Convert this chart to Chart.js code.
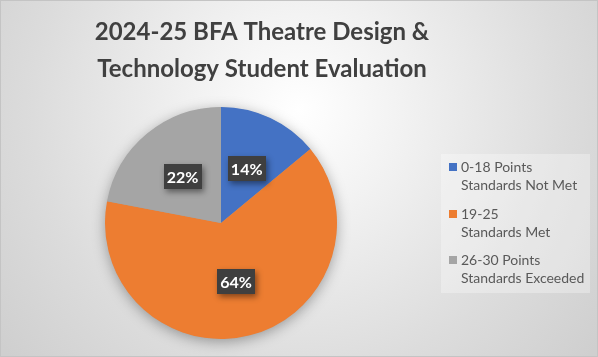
<!DOCTYPE html>
<html>
<head>
<meta charset="utf-8">
<script src="https://cdn.jsdelivr.net/npm/chart.js@4.4.1/dist/chart.umd.min.js"></script>
<style>
  html, body { margin: 0; padding: 0; background: #ffffff; }
  #wrap { width: 598px; height: 357px; }
</style>
</head>
<body>
<div id="wrap"><canvas id="c" width="598" height="357"></canvas></div>
<script>
const titleLines = ["2024-25 BFA Theatre Design &", "Technology Student Evaluation"];
const categories = [
  ["0-18 Points", "Standards Not Met"],
  ["19-25", "Standards Met"],
  ["26-30 Points", "Standards Exceeded"]
];
const percentValues = [14, 64, 22];
const sliceColors = ["#4472C4", "#ED7D31", "#A5A5A5"];

const FONT = "Lato, 'Open Sans', 'Liberation Sans', sans-serif";

const bgPlugin = {
  id: 'bg',
  beforeDraw(chart) {
    const ctx = chart.ctx, w = chart.width, h = chart.height;
    ctx.save();
    const g = ctx.createRadialGradient(w / 2, 110, 0, w / 2, 110, 380);
    g.addColorStop(0, '#ffffff');
    g.addColorStop(0.25, '#f3f3f3');
    g.addColorStop(0.7, '#dcdcdc');
    g.addColorStop(1, '#cfcfcf');
    ctx.fillStyle = g;
    ctx.fillRect(0, 0, w, h);
    ctx.strokeStyle = '#c4c4c4';
    ctx.lineWidth = 1;
    ctx.strokeRect(0.5, 0.5, w - 1, h - 1);
    // title
    ctx.fillStyle = '#404040';
    ctx.font = "bold 24px " + FONT;
    ctx.textAlign = 'center';
    ctx.textBaseline = 'alphabetic';
    ctx.fillText(titleLines[0], 262, 40);
    ctx.fillText(titleLines[1], 262, 77);
    ctx.restore();
  },
  beforeDatasetsDraw(chart) {
    const arc = chart.getDatasetMeta(0).data[0];
    if (!arc) return;
    const ctx = chart.ctx;
    ctx.save();
    ctx.shadowColor = 'rgba(0,0,0,0.35)';
    ctx.shadowBlur = 14;
    ctx.shadowOffsetX = 0;
    ctx.shadowOffsetY = 3;
    ctx.fillStyle = '#a0a0a0';
    ctx.beginPath();
    ctx.arc(arc.x, arc.y, arc.outerRadius - 0.5, 0, Math.PI * 2);
    ctx.fill();
    ctx.restore();
  },
  afterDatasetsDraw(chart) {
    const ctx = chart.ctx;
    const meta = chart.getDatasetMeta(0);
    const vals = chart.data.datasets[0].data;
    ctx.save();
    ctx.font = "bold 16px " + FONT;
    ctx.textAlign = 'center';
    ctx.textBaseline = 'middle';
    meta.data.forEach((el, i) => {
      const mid = (el.startAngle + el.endAngle) / 2;
      const r = el.outerRadius * 0.52;
      const x = el.x + Math.cos(mid) * r;
      const y = el.y + Math.sin(mid) * r;
      const txt = vals[i] + '%';
      const bw = 38, bh = 25;
      ctx.save();
      ctx.shadowColor = 'rgba(0,0,0,0.45)';
      ctx.shadowBlur = 6;
      ctx.shadowOffsetX = 2;
      ctx.shadowOffsetY = 3;
      ctx.fillStyle = '#3f3f3f';
      ctx.fillRect(Math.round(x - bw / 2), Math.round(y - bh / 2), bw, bh);
      ctx.restore();
      ctx.fillStyle = '#ffffff';
      ctx.fillText(txt, x, y + 1);
    });
    ctx.restore();
  },
  afterDraw(chart) {
    const ctx = chart.ctx;
    const labels = chart.data.labels;
    const colors = chart.data.datasets[0].backgroundColor;
    ctx.save();
    ctx.fillStyle = 'rgba(255,255,255,0.3)';
    ctx.fillRect(441, 154, 149, 139);
    ctx.font = "14px " + FONT;
    ctx.textAlign = 'left';
    ctx.textBaseline = 'middle';
    const starts = [167, 214, 260];
    labels.forEach((lab, i) => {
      const y0 = starts[i];
      ctx.fillStyle = colors[i];
      ctx.fillRect(449, y0 - 4, 8, 8);
      ctx.fillStyle = '#595959';
      lab.forEach((line, j) => {
        ctx.fillText(line, 461, y0 + j * 18.5);
      });
    });
    ctx.restore();
  }
};

new Chart(document.getElementById('c'), {
  type: 'pie',
  data: {
    labels: categories,
    datasets: [{
      data: percentValues,
      backgroundColor: sliceColors,
      borderWidth: 0
    }]
  },
  options: {
    responsive: false,
    animation: false,
    events: [],
    layout: { padding: { top: 107, bottom: 18, left: 105, right: 261 } },
    plugins: {
      legend: { display: false },
      title: { display: false },
      tooltip: { enabled: false }
    }
  },
  plugins: [bgPlugin]
});
</script>
</body>
</html>
